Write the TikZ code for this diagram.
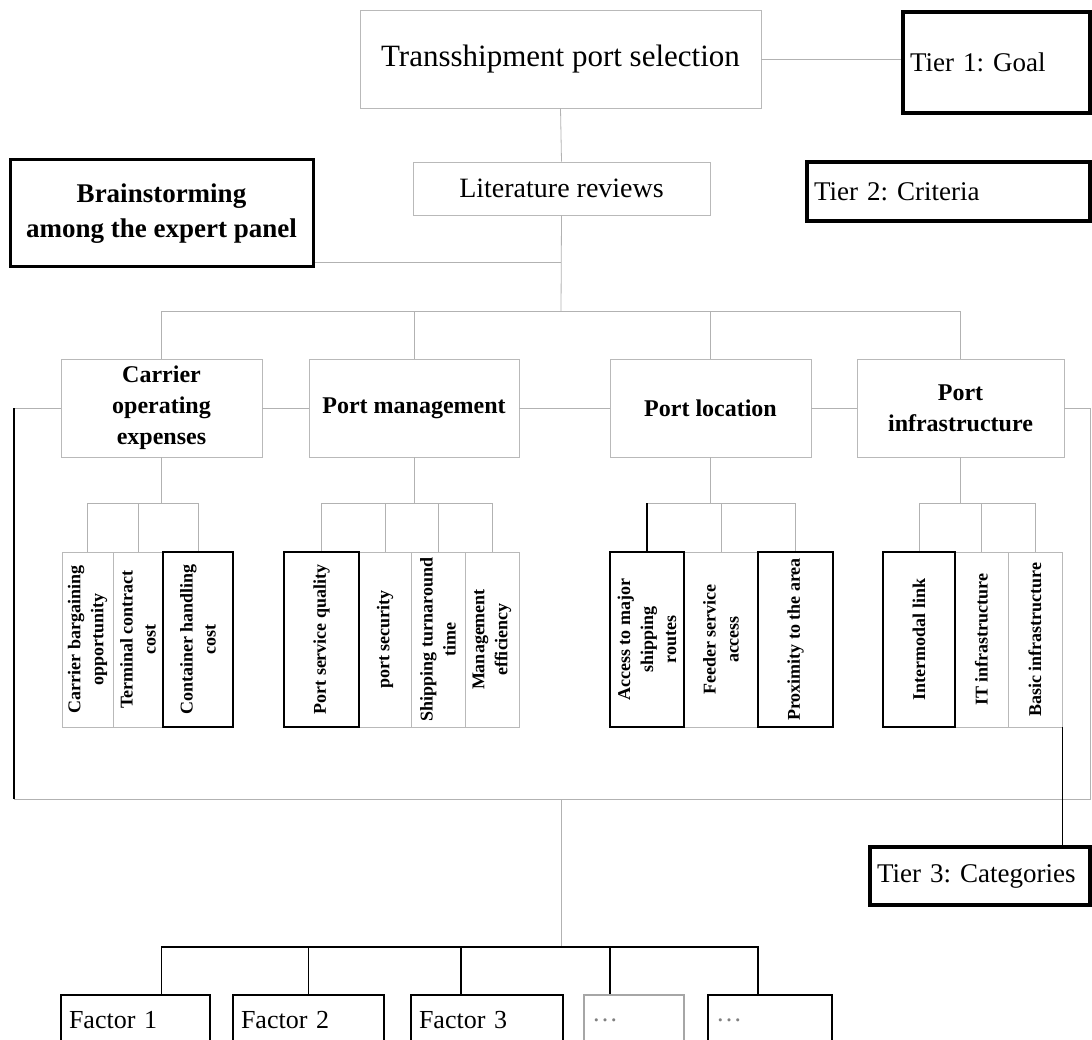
\documentclass[tikz,border=0pt]{standalone}
\usepackage{fontspec}
\setmainfont{Liberation Serif}
\usepackage{tikz}
\frenchspacing

\tikzset{
    box/.style={draw=gray!55, line width=0.8pt, inner sep=4pt, align=center},
    tierbox/.style={draw=black, line width=4pt, inner xsep=7pt, align=left,
        font=\fontsize{27}{32}\selectfont},
    catbox/.style={box, minimum height=98pt, font=\bfseries\fontsize{24}{31}\selectfont},
    subbox/.style={draw=gray!55, line width=0.8pt, rotate=90, minimum width=175pt,
        inner sep=2pt, align=center, font=\bfseries\fontsize{18}{23}\selectfont},
    subkey/.style={subbox, draw=black, line width=1.6pt},
    factorbox/.style={draw=black, line width=1.4pt, minimum height=50pt, inner xsep=8pt,
        align=left, font=\fontsize{26}{30}\selectfont},
    link/.style={draw=gray!60, line width=0.8pt},
    heavy/.style={draw=black, line width=1.6pt}
}

\begin{document}
\begin{tikzpicture}[x=1pt,y=-1pt]
            \useasboundingbox (0,0) rectangle (1092,1040);
            \clip (0,0) rectangle (1092,1040);

            \node[box, minimum width=401pt, minimum height=98pt, font=\fontsize{31}{36}\selectfont] at (560.5,59) (goal) {Transshipment port selection};
            \node[tierbox, text width=173pt, minimum height=101pt] at (996.5,62.5) (tierone) {Tier 1: Goal};
            \node[box, minimum width=297pt, minimum height=53pt, font=\fontsize{28}{34}\selectfont] at (561.5,188.5) (lit) {Literature reviews};
            \node[tierbox, text width=269pt, minimum height=59pt] at (948.5,191.5) (tiertwo) {Tier 2: Criteria};
            \node[box, draw=black, line width=3pt, minimum width=303pt, minimum height=107pt, font=\bfseries\fontsize{27}{35}\selectfont] at (161.5,213.5) (brain) {Brainstorming\\among the expert panel};

            \node[catbox, minimum width=201pt] at (161.5,408) (carrier) {Carrier\\operating\\expenses};
            \node[catbox, minimum width=210pt] at (414,408) (mgmt) {Port management};
            \node[catbox, minimum width=201pt] at (710.5,408) (loc) {Port location};
            \node[catbox, minimum width=207pt] at (960.5,408) (infra) {Port\\infrastructure};

            % sub-categories, grey boxes first
            \node[subbox, minimum height=51pt] at (87.5,639.5) (c1) {Carrier bargaining\\opportunity};
            \node[subbox, minimum height=50pt] at (138,639.5) (c2) {Terminal contract\\cost};
            \node[subbox, minimum height=52pt] at (385,639.5) (m2) {port security};
            \node[subbox, minimum height=54pt] at (438,639.5) (m3) {Shipping turnaround\\time};
            \node[subbox, minimum height=54pt] at (492,639.5) (m4) {Management\\efficiency};
            \node[subbox, minimum height=74pt] at (721,639.5) (l2) {Feeder service\\access};
            \node[subbox, minimum height=53pt] at (981.5,639.5) (i2) {IT infrastructure};
            \node[subbox, minimum height=54pt] at (1035,639.5) (i3) {Basic infrastructure};
            \node[subkey, minimum height=70pt] at (198,639.5) (c3) {Container handling\\cost};
            \node[subkey, minimum height=75pt] at (321.5,639.5) (m1) {Port service quality};
            \node[subkey, minimum height=74pt] at (647,639.5) (l1) {Access to major\\shipping\\routes};
            \node[subkey, minimum height=75pt] at (795.5,639.5) (l3) {Proximity to the area};
            \node[subkey, minimum height=72pt] at (919,639.5) (i1) {Intermodal link};

            \node[tierbox, text width=206pt, minimum height=58pt] at (980,876) (tierthree) {Tier 3: Categories};

            \node[factorbox, text width=133pt] at (135.5,1020) (f1) {Factor 1};
            \node[factorbox, text width=135pt] at (308.5,1020) (f2) {Factor 2};
            \node[factorbox, text width=136pt] at (487,1020) (f3) {Factor 3};
            \node[factorbox, text width=84pt, draw=gray!70, text=gray] at (634,1020) (f4) {\dots};
            \node[factorbox, text width=108pt, text=gray] at (770,1020) (f5) {\dots};

            \coordinate (bj) at (561,262);
            \coordinate (cj) at (561,311);
            \coordinate (lcorner) at (14,408);
            \coordinate (lbottom) at (14,799);
            \coordinate (fsplit) at (561,799);
            \coordinate (rbottom) at (1090,799);
            \coordinate (rcorner) at (1090,408);
            \coordinate (fj) at (561,947);

            \draw[link] (goal.east) -- (goal.east -| tierone.west);
            \draw[link] (goal.south) -- (lit.north);
            \draw[link] (lit.south) -- (cj);
            \draw[link] (brain.east |- bj) -- (bj);
            \draw[link] (cj) -| (carrier.north);
            \draw[link] (cj) -| (mgmt.north);
            \draw[link] (cj) -| (loc.north);
            \draw[link] (cj) -| (infra.north);

            \draw[link] (carrier.east) -- (mgmt.west);
            \draw[link] (mgmt.east) -- (loc.west);
            \draw[link] (loc.east) -- (infra.west);

            \draw[link] (carrier.south) -- ++(0,46) coordinate (csplit);
            \draw[link] (csplit) -| (c1.east);
            \draw[link] (csplit) -| (c2.east);
            \draw[link] (csplit) -| (c3.east);
            \draw[link] (mgmt.south) -- ++(0,46) coordinate (msplit);
            \draw[link] (msplit) -| (m1.east);
            \draw[link] (msplit) -| (m2.east);
            \draw[link] (msplit) -| (m3.east);
            \draw[link] (msplit) -| (m4.east);
            \draw[link] (loc.south) -- ++(0,46) coordinate (lsplit);
            \draw[link] (lsplit) -| (l1.east);
            \draw[heavy] (l1.east) -- (l1.east |- lsplit);
            \draw[link] (lsplit) -| (l2.east);
            \draw[link] (lsplit) -| (l3.east);
            \draw[link] (infra.south) -- ++(0,46) coordinate (isplit);
            \draw[link] (isplit) -| (i1.east);
            \draw[link] (isplit) -| (i2.east);
            \draw[link] (isplit) -| (i3.east);

            \draw[link] (carrier.west) -- (lcorner);
            \draw[heavy] (lcorner) -- (lbottom);
            \draw[link] (lbottom) -- (rbottom) -- (rcorner) -- (infra.east);
            \draw[heavy] (i3.south west) -- (i3.south west |- tierthree.north);

            \draw[link] (fsplit) -- (fj);
            \draw[heavy] (fj) -| ([xshift=26pt]f1.north);
            \draw[heavy] (fj) -| (f2.north);
            \draw[heavy] (fj) -| ([xshift=-26pt]f3.north);
            \draw[heavy] (fj) -| ([xshift=-24pt]f4.north);
            \draw[heavy] (fj) -| ([xshift=-12pt]f5.north);
        \end{tikzpicture}
\end{document}
